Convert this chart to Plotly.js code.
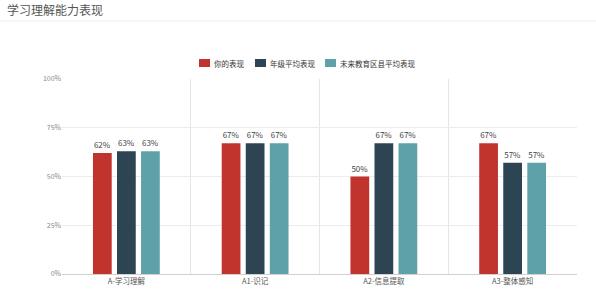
<!DOCTYPE html>
<html>
<head>
<meta charset="utf-8">
<script src="https://cdn.plot.ly/plotly-3.0.1.min.js"></script>
<style>html,body{margin:0;padding:0;background:#fff;}#chart{width:596px;height:291px;}</style>
</head>
<body>
<div id="chart"></div>
<script>
const categories = ["A-学习理解", "A1-识记", "A2-信息提取", "A3-整体感知"];
const seriesNames = ["你的表现", "年级平均表现", "未来教育区县平均表现"];
const yourScores = [62, 67, 50, 67];
const gradeAvg = [63, 67, 67, 57];
const countyAvg = [63, 67, 67, 57];
const yTickVals = [0, 25, 50, 75, 100];
const yTickText = ["0%", "25%", "50%", "75%", "100%"];
const colors = ["#C1342E", "#2D4553", "#5FA1A9"];
const font = "'Noto Sans CJK SC', 'Noto Sans', sans-serif";

const seriesValues = [yourScores, gradeAvg, countyAvg];
const traces = seriesValues.map((vals, i) => ({
  type: "bar",
  name: seriesNames[i],
  x: categories,
  y: vals,
  marker: {color: colors[i]},
  text: vals.map(v => v + "%"),
  textposition: "outside",
  textfont: {size: 8, color: "#444", family: font},
  cliponaxis: false,
  hoverinfo: "skip",
  showlegend: false
}));

const L = 62, T = 79, W = 515, H = 195;
const px = x => (x - L) / W;
const py = y => (T + H - y) / H;

// custom legend layout (positions only)
const legendX = [199, 255, 325];
const legendShapes = seriesNames.map((n, i) => ({
  type: "rect", xref: "paper", yref: "paper",
  x0: px(legendX[i]), x1: px(legendX[i] + 11),
  y0: py(67), y1: py(59),
  fillcolor: colors[i], line: {width: 0}
}));
const legendAnn = seriesNames.map((n, i) => ({
  text: n, xref: "paper", yref: "paper",
  x: px(legendX[i] + 12.5), y: py(63), xanchor: "left", yanchor: "middle",
  showarrow: false, font: {size: 7.5, color: "#333", family: font}
}));

const layout = {
  width: 596, height: 291,
  margin: {l: L, r: 596 - L - W, t: T, b: 291 - T - H, pad: 0},
  paper_bgcolor: "#fff", plot_bgcolor: "#fff",
  font: {family: font, size: 8, color: "#555"},
  barmode: "group",
  bargap: 0.44,
  bargroupgap: 0.22,
  showlegend: false,
  xaxis: {
    type: "category",
    tickson: "boundaries",
    showgrid: true, gridcolor: "#e6e6e6", gridwidth: 1,
    ticks: "", tickfont: {size: 7.5, color: "#555"},
    showline: true, linecolor: "#d0d0d0",
    zeroline: false, fixedrange: true
  },
  yaxis: {
    range: [0, 100],
    tickvals: yTickVals, ticktext: yTickText,
    tickfont: {size: 7, color: "#888"},
    showgrid: true, gridcolor: "#ececec",
    zeroline: false, showline: false,
    ticks: "", ticklen: 0, fixedrange: true
  },
  annotations: [{
    text: "学习理解能力表现", xref: "paper", yref: "paper",
    x: px(5), y: py(10), xanchor: "left", yanchor: "middle",
    showarrow: false, font: {size: 12, color: "#555", family: font}
  }].concat(legendAnn),
  shapes: [{
    type: "line", xref: "paper", yref: "paper",
    x0: px(0), x1: px(596), y0: py(21), y1: py(21),
    line: {color: "#eeeeee", width: 1}
  }].concat(legendShapes)
};

Plotly.newPlot("chart", traces, layout, {displayModeBar: false, staticPlot: true});
</script>
</body>
</html>
